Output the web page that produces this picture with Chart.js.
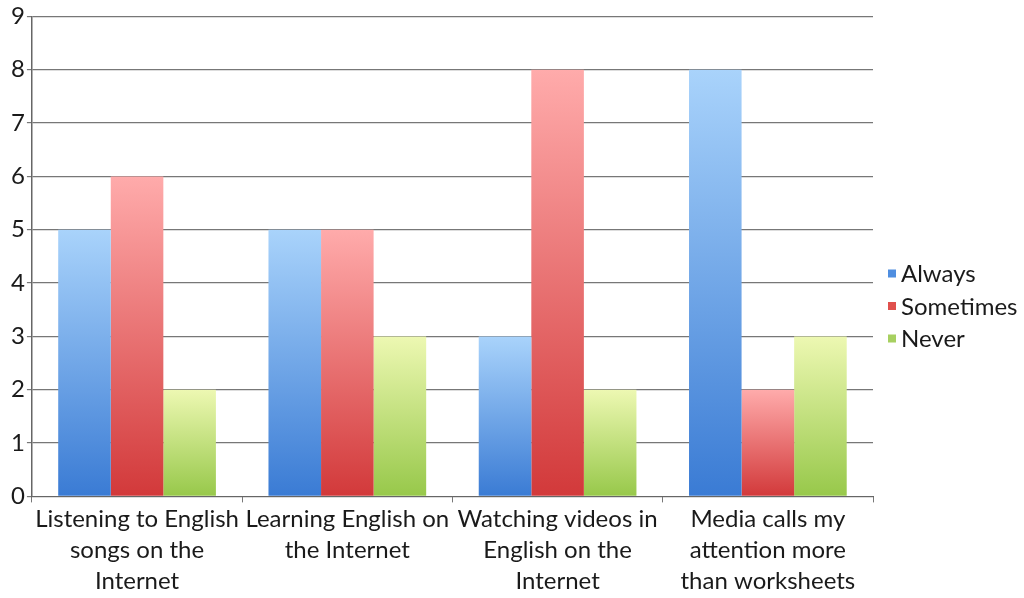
<!DOCTYPE html>
<html>
<head>
<meta charset="utf-8">
<script src="https://cdn.jsdelivr.net/npm/chart.js@4/dist/chart.umd.min.js"></script>
<style>
  html, body { margin: 0; padding: 0; background: #fff; }
  #wrap { width: 1024px; height: 598px; position: relative; }
</style>
</head>
<body>
<div id="wrap"><canvas id="c" width="1024" height="598"></canvas></div>
<script>
const categories = [
  ["Listening to English", "songs on the", "Internet"],
  ["Learning English on", "the Internet"],
  ["Watching videos in", "English on the", "Internet"],
  ["Media calls my", "attention more", "than worksheets"]
];
const seriesNames = ["Always", "Sometimes", "Never"];
const alwaysValues = [5, 5, 3, 8];
const sometimesValues = [6, 5, 8, 2];
const neverValues = [2, 3, 2, 3];
const yTicks = [0, 1, 2, 3, 4, 5, 6, 7, 8, 9];

const palettes = [
  { top: "#a9d3fb", bottom: "#3a7bd4", legend: "#4f8ee0" },
  { top: "#ffabab", bottom: "#d2393a", legend: "#e0504d" },
  { top: "#edf8b2", bottom: "#97c84a", legend: "#a7d060" }
];

function gradientFor(idx) {
  return function (ctx) {
    const chart = ctx.chart;
    const y = chart.scales && chart.scales.y;
    if (!y || ctx.type !== 'data' || ctx.parsed == null) return palettes[idx].legend;
    const top = y.getPixelForValue(ctx.parsed.y);
    const base = y.getPixelForValue(0);
    if (!isFinite(top) || !isFinite(base) || top === base) return palettes[idx].legend;
    const g = chart.ctx.createLinearGradient(0, top, 0, base);
    g.addColorStop(0, palettes[idx].top);
    g.addColorStop(1, palettes[idx].bottom);
    return g;
  };
}

const valueSets = [alwaysValues, sometimesValues, neverValues];
const datasets = seriesNames.map((name, i) => ({
  label: name,
  data: valueSets[i],
  backgroundColor: gradientFor(i),
  borderWidth: 0,
  categoryPercentage: 0.75,
  barPercentage: 1.0
}));

const FONT = "Lato, 'Open Sans', sans-serif";
const FSIZE = 24;

const sideLegend = {
  id: 'sideLegend',
  afterDraw(chart) {
    const c = chart.ctx;
    const left = chart.chartArea.right + 15;
    const spacing = 32.5;
    const centerY = 307;
    c.save();
    c.font = FSIZE + 'px ' + FONT;
    c.textBaseline = 'middle';
    seriesNames.forEach((n, i) => {
      const y = centerY + (i - 1) * spacing;
      c.fillStyle = palettes[i].legend;
      c.fillRect(left, y - 5, 8, 8);
      c.fillStyle = '#1a1a1a';
      c.fillText(n, left + 13, y);
    });
    c.restore();
  }
};

new Chart(document.getElementById('c'), {
  type: 'bar',
  data: { labels: categories, datasets },
  plugins: [sideLegend],
  options: {
    responsive: false,
    animation: false,
    devicePixelRatio: 1,
    layout: { padding: { top: 3, left: 9, right: 151, bottom: 0 } },
    plugins: {
      tooltip: { enabled: false },
      legend: { display: false }
    },
    scales: {
      x: {
        grid: {
          display: true,
          offset: true,
          drawOnChartArea: false,
          drawTicks: true,
          tickLength: 6,
          color: '#777'
        },
        border: { display: true, color: '#666', width: 1 },
        ticks: {
          color: '#1a1a1a',
          maxRotation: 0,
          autoSkip: false,
          padding: 1,
          font: { family: FONT, size: FSIZE, lineHeight: 1.3 }
        }
      },
      y: {
        min: 0,
        max: 9,
        afterBuildTicks: (axis) => { axis.ticks = yTicks.map(v => ({ value: v })); },
        grid: {
          color: '#777',
          lineWidth: 1.2,
          drawTicks: true,
          tickLength: 5
        },
        border: { display: true, color: '#666', width: 1.5 },
        ticks: {
          color: '#1a1a1a',
          padding: 2,
          font: { family: FONT, size: FSIZE }
        }
      }
    }
  }
});
</script>
</body>
</html>
